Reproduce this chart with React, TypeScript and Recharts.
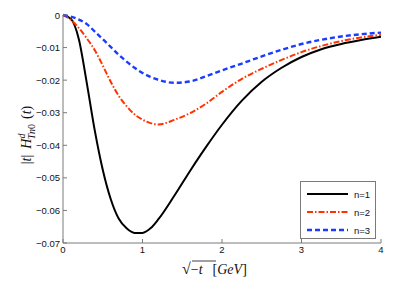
import { Label, Legend, Line, LineChart, XAxis, YAxis } from "recharts"

const X_VALUES = [0, 0.1, 0.2, 0.3, 0.4, 0.5, 0.6, 0.7, 0.8, 0.9, 1.0, 1.1, 1.2, 1.4, 1.6, 1.8, 2.0, 2.25, 2.5, 2.75, 3.0, 3.25, 3.5, 3.75, 4.0]
const N1 = [0, -0.0012, -0.0075, -0.021, -0.0355, -0.0475, -0.0565, -0.0625, -0.0655, -0.0669, -0.0669, -0.0655, -0.0627, -0.0555, -0.0478, -0.0405, -0.0337, -0.0263, -0.0205, -0.0162, -0.0129, -0.0105, -0.0089, -0.0077, -0.0067]
const N2 = [0, -0.0015, -0.004, -0.0072, -0.0108, -0.0155, -0.0205, -0.0248, -0.028, -0.0305, -0.0321, -0.0332, -0.0336, -0.0322, -0.0301, -0.0272, -0.0236, -0.0196, -0.0165, -0.0138, -0.0114, -0.0095, -0.008, -0.0069, -0.0061]
const N3 = [0, -0.0005, -0.0014, -0.0028, -0.0051, -0.0074, -0.0098, -0.0122, -0.0143, -0.0162, -0.0178, -0.019, -0.0199, -0.0208, -0.0204, -0.0188, -0.017, -0.0149, -0.0127, -0.0107, -0.0089, -0.0076, -0.0066, -0.0059, -0.0054]
const X_TICKS = [0, 1, 2, 3, 4]
const Y_TICKS = [0, -0.01, -0.02, -0.03, -0.04, -0.05, -0.06, -0.07]
const SERIES_NAMES = ["n=1", "n=2", "n=3"]

const data = X_VALUES.map((x, i) => ({ x, n1: N1[i], n2: N2[i], n3: N3[i] }))

const AXIS = "#7a7a7a"
const FONT = "'Liberation Sans', Arial, sans-serif"
const MATH = "'Liberation Serif', 'DejaVu Serif', serif"

const styles = [
    { key: "n1", color: "#000000", dash: undefined, width: 2 },
    { key: "n2", color: "#ff3300", dash: "6 2 1.5 2", width: 2 },
    { key: "n3", color: "#1a3cff", dash: "5 3", width: 2.4 },
]

const fmt = (v: number) => (v === 0 ? "0" : v < 0 ? "\u2212" + Math.abs(v).toFixed(2) : v.toFixed(2))

const BottomTick = (props: any) => {
    const { x, y, payload } = props
    return (
        <g>
            <line x1={x} x2={x} y1={y} y2={y - 4} stroke={AXIS} />
            <text x={x} y={y + 10} textAnchor="middle" fontSize={9.5} fontFamily={FONT} fill="#111">{payload.value}</text>
        </g>
    )
}
const TopTick = (props: any) => {
    const { x, y } = props
    return <line x1={x} x2={x} y1={y} y2={y + 4} stroke={AXIS} />
}
const LeftTick = (props: any) => {
    const { x, y, payload } = props
    return (
        <g>
            <line x1={x} x2={x + 4} y1={y} y2={y} stroke={AXIS} />
            <text x={x - 3} y={y + 3.5} textAnchor="end" fontSize={9.5} fontFamily={FONT} fill="#111">{fmt(payload.value)}</text>
        </g>
    )
}
const RightTick = (props: any) => {
    const { x, y } = props
    return <line x1={x} x2={x - 4} y1={y} y2={y} stroke={AXIS} />
}

const YLabel = (props: any) => {
    const vb = props.viewBox
    const cx = 31
    const cy = vb.y + vb.height / 2 + 6
    return (
        <text transform={`rotate(-90, ${cx}, ${cy})`} x={cx} y={cy} textAnchor="middle" fontFamily={MATH} fontSize={14} fill="#111">
            <tspan>|</tspan><tspan fontStyle="italic">t</tspan><tspan>|</tspan>
            <tspan fontStyle="italic" dx={6}>H</tspan>
            <tspan fontStyle="italic" fontSize={10} dy={-6}>d</tspan>
            <tspan fontStyle="italic" fontSize={10} dx={-6} dy={10}>Tn</tspan>
            <tspan fontSize={10}>0</tspan>
            <tspan dy={-4} dx={5}>(</tspan><tspan fontStyle="italic">t</tspan><tspan>)</tspan>
        </text>
    )
}

const XLabel = (props: any) => {
    const vb = props.viewBox
    const cx = vb.x + vb.width / 2
    const y = vb.y + 31
    return (
        <g fontFamily={MATH} fontSize={14} fill="#111">
            <text x={cx - 40} y={y} textAnchor="start">
                <tspan fontSize={16}>{"\u221a"}</tspan>
                <tspan>{"\u2212"}</tspan><tspan fontStyle="italic">t</tspan>
                <tspan dx={10}>[</tspan><tspan fontStyle="italic">GeV</tspan><tspan>]</tspan>
            </text>
            <line x1={cx - 30} x2={cx - 6} y1={y - 13} y2={y - 13} stroke="#111" strokeWidth={0.8} />
        </g>
    )
}

const LegendBox = () => (
    <div style={{ width: 76, height: 58, border: `1px solid ${AXIS}`, background: "#fff", boxSizing: "border-box", paddingTop: 3 }}>
        {styles.map((s, i) => (
            <div key={s.key} style={{ display: "flex", alignItems: "center", height: 18, fontFamily: FONT, fontSize: 9.5, color: "#111" }}>
                <svg width={50} height={10}>
                    <line x1={6} x2={47} y1={5} y2={5} stroke={s.color} strokeWidth={s.width} strokeDasharray={s.dash} />
                </svg>
                <span style={{ marginLeft: 3 }}>{SERIES_NAMES[i]}</span>
            </div>
        ))}
    </div>
)

export default function App() {
    return (
        <div style={{ position: "absolute", left: 0, top: 0, background: "#fff" }}>
            <LineChart width={409} height={281} data={data} margin={{ top: 15, right: 28, bottom: 0, left: 0 }}>
                <XAxis xAxisId="b" dataKey="x" type="number" domain={[0, 4]} ticks={X_TICKS} axisLine={{ stroke: AXIS }} tickLine={false} tickSize={0} tickMargin={0} tick={<BottomTick />} height={38}>
                    <Label content={<XLabel />} />
                </XAxis>
                <XAxis xAxisId="t" dataKey="x" type="number" orientation="top" domain={[0, 4]} ticks={X_TICKS} axisLine={{ stroke: AXIS }} tickLine={false} tickSize={0} tickMargin={0} tick={<TopTick />} height={0} />
                <YAxis yAxisId="l" type="number" domain={[-0.07, 0]} ticks={Y_TICKS} axisLine={{ stroke: AXIS }} tickLine={false} tickSize={0} tickMargin={0} tick={<LeftTick />} width={63}>
                    <Label content={<YLabel />} />
                </YAxis>
                <YAxis yAxisId="r" type="number" orientation="right" domain={[-0.07, 0]} ticks={Y_TICKS} axisLine={{ stroke: AXIS }} tickLine={false} tickSize={0} tickMargin={0} tick={<RightTick />} width={0} />
                {styles.map((s, i) => (
                    <Line key={s.key} xAxisId="b" yAxisId="l" type="monotone" dataKey={s.key} name={SERIES_NAMES[i]} stroke={s.color} strokeWidth={s.width} strokeDasharray={s.dash} dot={false} isAnimationActive={false} />
                ))}
                <Legend layout="vertical" align="center" verticalAlign="middle" content={<LegendBox />} wrapperStyle={{ position: "absolute", left: 300, top: 181, width: 76, height: 58 }} />
            </LineChart>
        </div>
    )
}
